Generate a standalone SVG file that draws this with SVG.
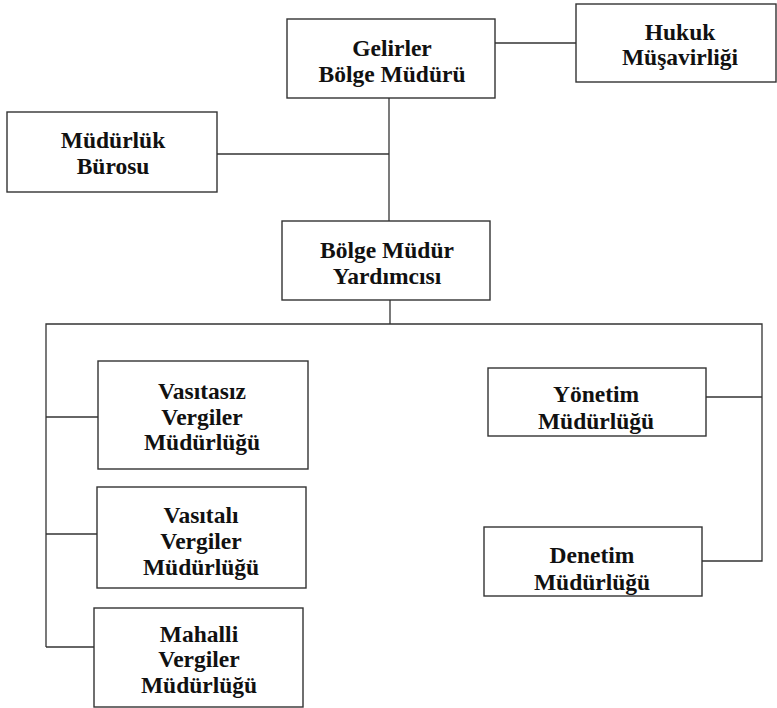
<svg xmlns="http://www.w3.org/2000/svg" width="777" height="708" viewBox="0 0 777 708">
<style>
.box{fill:#fff;stroke:#333;stroke-width:1.4}
.con{fill:none;stroke:#333;stroke-width:1.3}
.t{font-family:"Liberation Serif","Times New Roman",serif;font-weight:bold;font-size:23.5px;fill:#111;text-anchor:middle}
</style>
<rect width="777" height="708" fill="#fff"/>
<g id="connectors">
<line class="con" x1="495" y1="43" x2="576" y2="43"/>
<line class="con" x1="389" y1="98" x2="389" y2="221"/>
<line class="con" x1="217" y1="154" x2="389" y2="154"/>
<line class="con" x1="390" y1="300" x2="390" y2="324"/>
<polyline class="con" points="46,647 46,324 762,324 762,561 702,561"/>
<line class="con" x1="46" y1="417" x2="98" y2="417"/>
<line class="con" x1="46" y1="534" x2="97" y2="534"/>
<line class="con" x1="46" y1="647" x2="94" y2="647"/>
<line class="con" x1="706" y1="397" x2="762" y2="397"/>
</g>
<g id="gelirler">
<rect class="box" x="287" y="19" width="208" height="79"/>
<text class="t" x="392" y="56">Gelirler</text>
<text class="t" x="392" y="82">Bölge Müdürü</text>
</g>
<g id="hukuk">
<rect class="box" x="576" y="4" width="200" height="78"/>
<text class="t" x="680" y="40">Hukuk</text>
<text class="t" x="680" y="65">Müşavirliği</text>
</g>
<g id="mudurluk-burosu">
<rect class="box" x="7" y="112" width="210" height="80"/>
<text class="t" x="113" y="148">Müdürlük</text>
<text class="t" x="113" y="174">Bürosu</text>
</g>
<g id="bolge-mudur-yardimcisi">
<rect class="box" x="282" y="221" width="208" height="79"/>
<text class="t" x="387" y="258">Bölge Müdür</text>
<text class="t" x="387" y="284">Yardımcısı</text>
</g>
<g id="vasitasiz">
<rect class="box" x="98" y="361" width="210" height="108"/>
<text class="t" x="202" y="399">Vasıtasız</text>
<text class="t" x="202" y="425">Vergiler</text>
<text class="t" x="202" y="450">Müdürlüğü</text>
</g>
<g id="vasitali">
<rect class="box" x="97" y="487" width="209" height="101"/>
<text class="t" x="201" y="523">Vasıtalı</text>
<text class="t" x="201" y="549">Vergiler</text>
<text class="t" x="201" y="575">Müdürlüğü</text>
</g>
<g id="mahalli">
<rect class="box" x="94" y="608" width="209" height="99"/>
<text class="t" x="199" y="642">Mahalli</text>
<text class="t" x="199" y="667">Vergiler</text>
<text class="t" x="199" y="693">Müdürlüğü</text>
</g>
<g id="yonetim">
<rect class="box" x="488" y="368" width="218" height="68"/>
<text class="t" x="596" y="402">Yönetim</text>
<text class="t" x="596" y="429">Müdürlüğü</text>
</g>
<g id="denetim">
<rect class="box" x="484" y="527" width="218" height="69"/>
<text class="t" x="592" y="563">Denetim</text>
<text class="t" x="592" y="590">Müdürlüğü</text>
</g>
</svg>
